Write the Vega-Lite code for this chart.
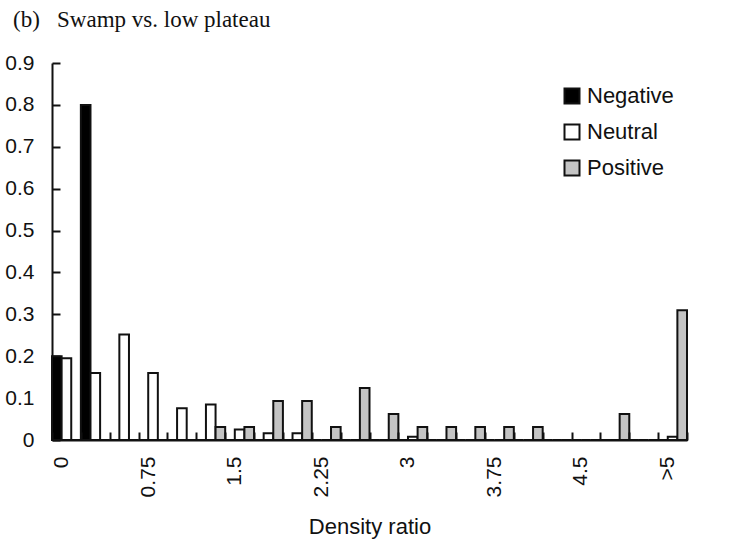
{
  "$schema": "https://vega.github.io/schema/vega-lite/v6.json",
  "autosize": {"type": "none"},
  "padding": {"left": 52, "top": 63, "right": 42, "bottom": 102},
  "width": 635,
  "height": 377,
  "title": {
    "text": "(b)\u00a0\u00a0\u00a0Swamp vs. low plateau",
    "anchor": "start",
    "frame": "group",
    "font": "Liberation Serif",
    "fontSize": 23,
    "fontWeight": "normal",
    "color": "#111",
    "dx": -39,
    "offset": 20
  },
  "config": {
    "view": {"stroke": null},
    "font": "Liberation Sans",
    "axis": {"domainColor": "#111", "domainWidth": 2, "tickColor": "#111", "tickWidth": 2, "labelColor": "#111", "titleColor": "#111", "grid": false}
  },
  "data": {
    "values": [
      {"ratio": "0", "series": "Negative", "value": 0.2},
      {"ratio": "0", "series": "Neutral", "value": 0.195},
      {"ratio": "0", "series": "Positive", "value": 0},
      {"ratio": "0.25", "series": "Negative", "value": 0.8},
      {"ratio": "0.25", "series": "Neutral", "value": 0.16},
      {"ratio": "0.25", "series": "Positive", "value": 0},
      {"ratio": "0.5", "series": "Negative", "value": 0},
      {"ratio": "0.5", "series": "Neutral", "value": 0.252},
      {"ratio": "0.5", "series": "Positive", "value": 0},
      {"ratio": "0.75", "series": "Negative", "value": 0},
      {"ratio": "0.75", "series": "Neutral", "value": 0.16},
      {"ratio": "0.75", "series": "Positive", "value": 0},
      {"ratio": "1", "series": "Negative", "value": 0},
      {"ratio": "1", "series": "Neutral", "value": 0.076},
      {"ratio": "1", "series": "Positive", "value": 0},
      {"ratio": "1.25", "series": "Negative", "value": 0},
      {"ratio": "1.25", "series": "Neutral", "value": 0.085},
      {"ratio": "1.25", "series": "Positive", "value": 0.031},
      {"ratio": "1.5", "series": "Negative", "value": 0},
      {"ratio": "1.5", "series": "Neutral", "value": 0.025},
      {"ratio": "1.5", "series": "Positive", "value": 0.031},
      {"ratio": "1.75", "series": "Negative", "value": 0},
      {"ratio": "1.75", "series": "Neutral", "value": 0.016},
      {"ratio": "1.75", "series": "Positive", "value": 0.093},
      {"ratio": "2", "series": "Negative", "value": 0},
      {"ratio": "2", "series": "Neutral", "value": 0.016},
      {"ratio": "2", "series": "Positive", "value": 0.093},
      {"ratio": "2.25", "series": "Negative", "value": 0},
      {"ratio": "2.25", "series": "Neutral", "value": 0},
      {"ratio": "2.25", "series": "Positive", "value": 0.031},
      {"ratio": "2.5", "series": "Negative", "value": 0},
      {"ratio": "2.5", "series": "Neutral", "value": 0},
      {"ratio": "2.5", "series": "Positive", "value": 0.124},
      {"ratio": "2.75", "series": "Negative", "value": 0},
      {"ratio": "2.75", "series": "Neutral", "value": 0},
      {"ratio": "2.75", "series": "Positive", "value": 0.062},
      {"ratio": "3", "series": "Negative", "value": 0},
      {"ratio": "3", "series": "Neutral", "value": 0.008},
      {"ratio": "3", "series": "Positive", "value": 0.031},
      {"ratio": "3.25", "series": "Negative", "value": 0},
      {"ratio": "3.25", "series": "Neutral", "value": 0},
      {"ratio": "3.25", "series": "Positive", "value": 0.031},
      {"ratio": "3.5", "series": "Negative", "value": 0},
      {"ratio": "3.5", "series": "Neutral", "value": 0},
      {"ratio": "3.5", "series": "Positive", "value": 0.031},
      {"ratio": "3.75", "series": "Negative", "value": 0},
      {"ratio": "3.75", "series": "Neutral", "value": 0},
      {"ratio": "3.75", "series": "Positive", "value": 0.031},
      {"ratio": "4", "series": "Negative", "value": 0},
      {"ratio": "4", "series": "Neutral", "value": 0},
      {"ratio": "4", "series": "Positive", "value": 0.031},
      {"ratio": "4.25", "series": "Negative", "value": 0},
      {"ratio": "4.25", "series": "Neutral", "value": 0},
      {"ratio": "4.25", "series": "Positive", "value": 0},
      {"ratio": "4.5", "series": "Negative", "value": 0},
      {"ratio": "4.5", "series": "Neutral", "value": 0},
      {"ratio": "4.5", "series": "Positive", "value": 0},
      {"ratio": "4.75", "series": "Negative", "value": 0},
      {"ratio": "4.75", "series": "Neutral", "value": 0},
      {"ratio": "4.75", "series": "Positive", "value": 0.062},
      {"ratio": "5", "series": "Negative", "value": 0},
      {"ratio": "5", "series": "Neutral", "value": 0},
      {"ratio": "5", "series": "Positive", "value": 0},
      {"ratio": ">5", "series": "Negative", "value": 0},
      {"ratio": ">5", "series": "Neutral", "value": 0.008},
      {"ratio": ">5", "series": "Positive", "value": 0.31}
    ]
  },
  "mark": {"type": "bar", "stroke": "#111", "strokeWidth": 2},
  "encoding": {
    "x": {
      "field": "ratio",
      "type": "ordinal",
      "sort": null,
      "scale": {"paddingInner": 0, "paddingOuter": 0},
      "axis": {
        "title": "Density ratio",
        "titleFontSize": 22,
        "titleFontWeight": "normal",
        "titlePadding": 20,
        "labelAngle": -90,
        "labelFontSize": 21,
        "labelPadding": 24,
        "labelOffset": -5,
        "ticks": true,
        "tickBand": "extent",
        "tickSize": -8,
        "zindex": 1,
        "labelExpr": "indexof(['0','0.75','1.5','2.25','3','3.75','4.5','>5'], datum.value) >= 0 ? datum.label : ''"
      }
    },
    "xOffset": {"field": "series", "type": "nominal", "scale": {"paddingInner": 0, "paddingOuter": 0}},
    "y": {
      "field": "value",
      "type": "quantitative",
      "scale": {"domain": [0, 0.9], "nice": false},
      "axis": {
        "title": null,
        "values": [0, 0.1, 0.2, 0.3, 0.4, 0.5, 0.6, 0.7, 0.8, 0.9],
        "format": "~g",
        "labelFontSize": 21,
        "labelPadding": 26,
        "tickSize": -8
      }
    },
    "fill": {
      "field": "series",
      "type": "nominal",
      "scale": {"domain": ["Negative", "Neutral", "Positive"], "range": ["#000000", "#ffffff", "#c4c4c4"]},
      "legend": {
        "title": null,
        "orient": "none",
        "legendX": 509,
        "legendY": 22,
        "symbolType": "square",
        "symbolSize": 225,
        "symbolStrokeColor": "#111",
        "symbolStrokeWidth": 2,
        "labelFontSize": 22,
        "labelColor": "#111",
        "labelOffset": 4,
        "rowPadding": 12
      }
    }
  }
}
